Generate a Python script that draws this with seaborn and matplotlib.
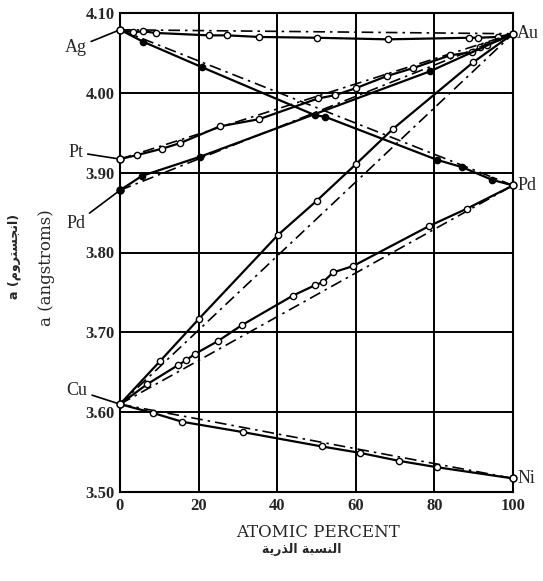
import matplotlib
matplotlib.use("Agg")
import matplotlib.pyplot as plt
import seaborn as sns

# lattice parameter (angstroms) vs atomic percent
ag_au_x = [0, 3.3, 5.9, 9.2, 22.6, 27.2, 35.4, 50.1, 68.2, 88.8, 91.1, 96.2, 100]
ag_au_y = [4.079, 4.076, 4.077, 4.075, 4.072, 4.072, 4.070, 4.069, 4.067, 4.069, 4.069, 4.070, 4.074]

ag_pd_x = [0, 5.9, 20.9, 49.6, 52.2, 80.7, 87.0, 94.7, 100]
ag_pd_y = [4.079, 4.064, 4.032, 3.972, 3.970, 3.916, 3.907, 3.891, 3.884]

pt_au_x = [0, 4.3, 10.7, 15.3, 25.4, 35.4, 50.4, 54.7, 60.1, 67.9, 74.6, 84.0, 89.6, 91.6, 93.4, 100]
pt_au_y = [3.917, 3.922, 3.930, 3.937, 3.958, 3.967, 3.993, 3.997, 4.006, 4.021, 4.031, 4.047, 4.051, 4.057, 4.060, 4.074]

pd_au_x = [0, 5.6, 20.4, 78.9, 100]
pd_au_y = [3.878, 3.896, 3.920, 4.027, 4.074]

cu_au_x = [0, 10.2, 20.1, 40.2, 50.1, 60.1, 69.5, 89.8, 100]
cu_au_y = [3.610, 3.664, 3.717, 3.822, 3.865, 3.911, 3.955, 4.038, 4.074]

cu_pd_x = [0, 6.9, 14.8, 16.8, 19.1, 24.9, 31.0, 44.0, 49.6, 51.7, 54.2, 59.3, 78.6, 88.3, 100]
cu_pd_y = [3.610, 3.635, 3.659, 3.665, 3.673, 3.689, 3.709, 3.746, 3.759, 3.763, 3.775, 3.783, 3.833, 3.855, 3.884]

cu_ni_x = [0, 8.4, 15.8, 31.3, 51.4, 61.1, 71.0, 80.7, 100]
cu_ni_y = [3.610, 3.599, 3.588, 3.575, 3.557, 3.549, 3.539, 3.531, 3.517]

x_ticks = [0, 20, 40, 60, 80, 100]
y_ticks = [3.50, 3.60, 3.70, 3.80, 3.90, 4.00, 4.10]

# arabic text written in shaped presentation forms, visual order
ar_xlabel = "\uFE94\uFEF3\uFEAD\uFEAC\uFEDF\uFE8D \uFE94\uFE92\uFEB4\uFEE8\uFEDF\uFE8D"
ar_ylabel = "a (\uFEE1\uFEED\uFEAE\uFE98\uFEB4\uFEA0\uFEE7\uFE8D)"

sns.set_style("white")
plt.rcParams['font.family'] = ['Liberation Serif', 'DejaVu Sans']

fig = plt.figure(figsize=(5.43, 5.81), dpi=100)
ax = fig.add_axes([120/543, 1 - 492/581, 393/543, 479/581])

dashdot = (0, (7, 3, 1.5, 3))
series = [
    (ag_au_x, ag_au_y, 'white'),
    (ag_pd_x, ag_pd_y, 'black'),
    (pt_au_x, pt_au_y, 'white'),
    (pd_au_x, pd_au_y, 'black'),
    (cu_au_x, cu_au_y, 'white'),
    (cu_pd_x, cu_pd_y, 'white'),
    (cu_ni_x, cu_ni_y, 'white'),
]
for xs, ys, face in series:
    # Vegard's law line between the pure metals
    sns.lineplot(x=[xs[0], xs[-1]], y=[ys[0], ys[-1]], ax=ax, color='black',
                 lw=1.2, linestyle=dashdot, errorbar=None)
    sns.lineplot(x=xs, y=ys, ax=ax, color='black', lw=1.6, marker='o',
                 markersize=4.5, markerfacecolor=face, markeredgecolor='black',
                 markeredgewidth=1.0, errorbar=None, sort=False)

# pure-metal end points
ends = [(ag_au_x[0], ag_au_y[0], 'white'), (ag_au_x[-1], ag_au_y[-1], 'white'),
        (pt_au_x[0], pt_au_y[0], 'white'), (pd_au_x[0], pd_au_y[0], 'black'),
        (ag_pd_x[-1], ag_pd_y[-1], 'white'), (cu_au_x[0], cu_au_y[0], 'white'),
        (cu_ni_x[-1], cu_ni_y[-1], 'white')]
for ex, ey, face in ends:
    ax.plot(ex, ey, 'o', ms=5, mfc=face, mec='black', mew=1.1, zorder=5, clip_on=False)

ax.set_xlim(0, 100)
ax.set_ylim(3.50, 4.10)
ax.set_xticks(x_ticks)
ax.set_yticks(y_ticks)
ax.set_xticklabels([str(t) for t in x_ticks])
ax.set_yticklabels([f"{t:.2f}" for t in y_ticks])
ax.grid(True, color='black', lw=1.4)
ax.tick_params(length=0, pad=4, labelsize=12)
for lab in ax.get_xticklabels() + ax.get_yticklabels():
    lab.set_fontweight('bold')
for sp in ax.spines.values():
    sp.set_color('black')
    sp.set_linewidth(1.5)

# element labels
lead = dict(arrowstyle='-', color='black', lw=1.2, shrinkA=1, shrinkB=2)
left_labels = [("Ag", ag_au_y[0], (-32, -13)), ("Pt", pt_au_y[0], (-32, 5)),
               ("Pd", pd_au_y[0], (-32, -24)), ("Cu", cu_au_y[0], (-31, 10))]
for name, yv, off in left_labels:
    ax.annotate(name, xy=(0, yv), xytext=off, textcoords='offset points',
                ha='center', va='center', fontsize=13, arrowprops=lead,
                annotation_clip=False)
for name, yv in [("Au", ag_au_y[-1]), ("Pd", ag_pd_y[-1]), ("Ni", cu_ni_y[-1])]:
    ax.annotate(name, xy=(100, yv), xytext=(3, 0), textcoords='offset points',
                ha='left', va='center', fontsize=13, annotation_clip=False)

ax.set_xlabel("ATOMIC PERCENT", fontsize=12, family=['DejaVu Serif'], va='center')
ax.xaxis.set_label_coords(0.504, -0.084)
ax.set_ylabel("a (angstroms)", fontsize=12, family=['DejaVu Serif'], va='center')
ax.yaxis.set_label_coords(-0.188, 0.468)

fig.text(302/543, 1 - 550/581, ar_xlabel, ha='center', va='center',
         fontsize=9, fontweight='bold', family=['DejaVu Sans'])
fig.text(14/543, 1 - 256/581, ar_ylabel, ha='center', va='center', rotation=90,
         fontsize=9, fontweight='bold', family=['DejaVu Sans'])

fig.savefig("out.png", dpi=100)
